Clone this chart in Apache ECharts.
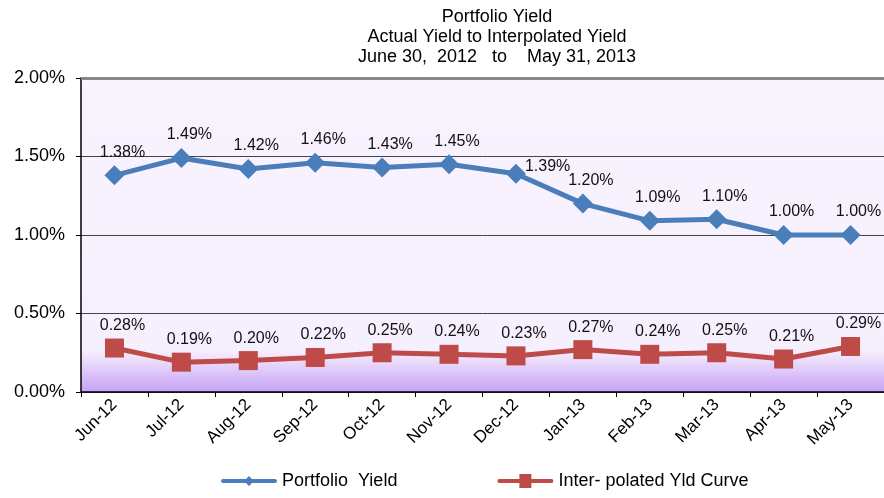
<!DOCTYPE html>
<html>
<head>
<meta charset="utf-8">
<script src="https://cdn.jsdelivr.net/npm/echarts@6/dist/echarts.min.js"></script>
<style>
  html, body { margin: 0; padding: 0; background: #fff; }
  #chart { width: 884px; height: 498px; }
</style>
</head>
<body>
<div id="chart"></div>
<script>
//-------------------数据--------------
var months = ['Jun-12', 'Jul-12', 'Aug-12', 'Sep-12', 'Oct-12', 'Nov-12',
              'Dec-12', 'Jan-13', 'Feb-13', 'Mar-13', 'Apr-13', 'May-13'];
var portfolioYield = [1.38, 1.49, 1.42, 1.46, 1.43, 1.45, 1.39, 1.20, 1.09, 1.10, 1.00, 1.00];
var interpolatedCurve = [0.28, 0.19, 0.20, 0.22, 0.25, 0.24, 0.23, 0.27, 0.24, 0.25, 0.21, 0.29];
var yTicks = [0, 0.5, 1.0, 1.5, 2.0];

var font = '"Liberation Sans", Arial, sans-serif';

//-------------------处理逻辑------------------
function pct(p) { return p.value.toFixed(2) + '%'; }

var blueData = portfolioYield.map(function (v, i) {
  var item = { value: v };
  if (months[i] === 'Dec-12') {
    item.label = { position: 'right', offset: [-6, -7] };
  }
  return item;
});

// legend icons: thick line with marker in the middle (56 x 14 box)
var iconDiamond = 'path://M2,5 L54,5 A2,2 0 0 1 54,9 L2,9 A2,2 0 0 1 2,5 Z M28,2 L33,7 L28,12 L23,7 Z';
var iconSquare = 'path://M2,5 L54,5 A2,2 0 0 1 54,9 L2,9 A2,2 0 0 1 2,5 Z M22,0 L34,0 L34,14 L22,14 Z';

//-------------------配置--------------
var option = {
  animation: false,
  title: {
    text: 'Portfolio Yield\nActual Yield to Interpolated Yield\nJune 30,  2012   to    May 31, 2013',
    left: 492,
    textAlign: 'center',
    top: 2,
    textStyle: { fontFamily: font, fontSize: 18, fontWeight: 'normal', color: '#000', lineHeight: 20 }
  },
  legend: {
    bottom: 3,
    left: 216,
    itemGap: 100,
    itemWidth: 56,
    itemHeight: 14,
    textStyle: { fontFamily: font, fontSize: 18, color: '#000' },
    data: [
      { name: 'Portfolio  Yield', icon: iconDiamond },
      { name: 'Inter- polated Yld Curve', icon: iconSquare }
    ]
  },
  grid: {
    left: 81, right: -3, top: 78, bottom: 106,
    show: true,
    borderWidth: 0,
    backgroundColor: new echarts.graphic.LinearGradient(0, 0, 0, 1, [
      { offset: 0, color: '#f9f3fe' },
      { offset: 0.87, color: '#f6effe' },
      { offset: 1, color: '#c6a1f4' }
    ])
  },
  xAxis: {
    type: 'category',
    data: months,
    boundaryGap: true,
    axisLine: { lineStyle: { color: '#000', width: 1.5 } },
    axisTick: { show: true, length: 5, lineStyle: { color: '#000' } },
    axisLabel: {
      rotate: 45, fontFamily: font, fontSize: 17, color: '#000', margin: 10,
      interval: 0
    }
  },
  yAxis: {
    type: 'value',
    min: yTicks[0],
    max: yTicks[yTicks.length - 1],
    interval: 0.5,
    axisLine: { show: true, lineStyle: { color: '#000', width: 1.5 } },
    axisTick: { show: true, length: 5, lineStyle: { color: '#000' } },
    axisLabel: {
      fontFamily: font, fontSize: 18, color: '#000', margin: 16,
      formatter: function (v) { return v.toFixed(2) + '%'; }
    },
    splitLine: { show: true, lineStyle: { color: '#444', width: 1 } }
  },
  series: [
    {
      name: 'Portfolio  Yield',
      type: 'line',
      data: blueData,
      symbol: 'diamond',
      symbolSize: 20,
      lineStyle: { color: '#4a7ebb', width: 5 },
      itemStyle: { color: '#4a7ebb' },
      label: {
        show: true, position: 'top', distance: 5, offset: [8, 0],
        formatter: pct, fontFamily: font, fontSize: 16, color: '#111'
      },
      markLine: {
        silent: true, symbol: 'none', label: { show: false },
        lineStyle: { color: '#888', width: 3, type: 'solid' },
        data: [{ yAxis: yTicks[yTicks.length - 1] }]
      },
      z: 3
    },
    {
      name: 'Inter- polated Yld Curve',
      type: 'line',
      data: interpolatedCurve,
      symbol: 'rect',
      symbolSize: 19,
      lineStyle: { color: '#be4b48', width: 5 },
      itemStyle: { color: '#be4b48' },
      label: {
        show: true, position: 'top', distance: 5, offset: [8, 0],
        formatter: pct, fontFamily: font, fontSize: 16, color: '#111'
      },
      z: 3
    }
  ]
};

echarts.init(document.getElementById('chart')).setOption(option);
</script>
</body>
</html>
